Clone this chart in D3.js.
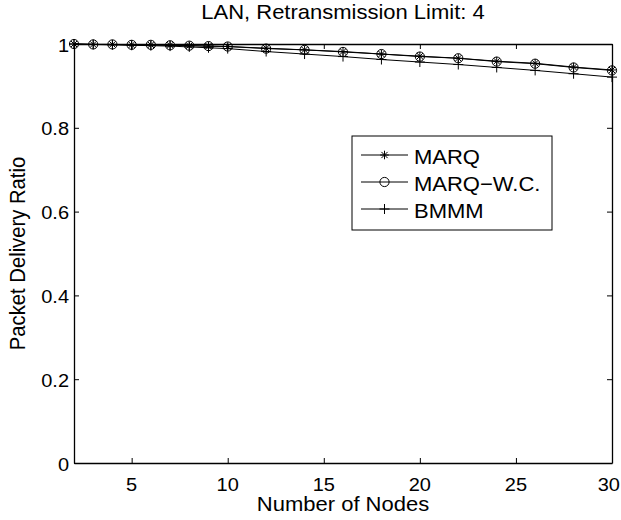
<!DOCTYPE html>
<html>
<head>
<meta charset="utf-8">
<script src="https://cdn.jsdelivr.net/npm/d3@7"></script>
<style>
  html, body { margin: 0; padding: 0; background: #fff; }
  svg { display: block; font-family: "Liberation Sans", Arial, Helvetica, sans-serif; }
</style>
</head>
<body>
<svg id="chart" width="621" height="520"></svg>
<script>
// Number of nodes on the x axis
const nodes = [2, 3, 4, 5, 6, 7, 8, 9, 10, 12, 14, 16, 18, 20, 22, 24, 26, 28, 30];

// Packet delivery ratio per protocol
const marq   = [1.000, 0.999, 0.999, 0.998, 0.998, 0.997, 0.996, 0.995, 0.994, 0.990, 0.986, 0.982, 0.976, 0.971, 0.966, 0.959, 0.954, 0.945, 0.938];
const marqWC = [1.000, 0.999, 0.999, 0.998, 0.998, 0.997, 0.996, 0.995, 0.994, 0.989, 0.986, 0.981, 0.976, 0.970, 0.966, 0.958, 0.953, 0.944, 0.937];
const bmmm   = [1.000, 0.999, 0.998, 0.997, 0.996, 0.995, 0.993, 0.991, 0.989, 0.982, 0.976, 0.970, 0.963, 0.957, 0.951, 0.944, 0.937, 0.929, 0.921];

const xTicks = [5, 10, 15, 20, 25, 30];
const yTicks = [0, 0.2, 0.4, 0.6, 0.8, 1];

const seriesNames = ["MARQ", "MARQ\u2212W.C.", "BMMM"];
const seriesValues = [marq, marqWC, bmmm];
const seriesMarkers = ["star", "circle", "plus"];

const svg = d3.select("#chart");
const margin = { left: 74, right: 9, top: 44, bottom: 57 };
const W = 621, H = 520;
const x = d3.scaleLinear().domain([2, 30]).range([margin.left, W - margin.right]);
const y = d3.scaleLinear().domain([0, 1]).range([H - margin.bottom, margin.top]);

const tickFont = 20;     // tick labels
const labelFont = 22;    // title, axis labels, legend
const squash = 0.92;     // glyphs are slightly compressed vertically
const tickLen = 5;

// Horizontal text with vertical compression
function hText(parent, tx, ty, str, size, anchor) {
  return parent.append("text")
    .attr("transform", `translate(${tx},${ty}) scale(1,${squash})`)
    .attr("text-anchor", anchor || "middle")
    .style("font-size", size + "px")
    .attr("fill", "#000")
    .text(str);
}

// Axes: ticks inward on all four sides, labels drawn separately
const gBottom = svg.append("g").attr("transform", `translate(0,${y(0)})`)
  .call(d3.axisBottom(x).tickValues(xTicks).tickSizeInner(-tickLen).tickSizeOuter(0).tickFormat(""));
const gLeft = svg.append("g").attr("transform", `translate(${x(2)},0)`)
  .call(d3.axisLeft(y).tickValues(yTicks).tickSizeInner(-tickLen).tickSizeOuter(0).tickFormat(""));
const gTop = svg.append("g").attr("transform", `translate(0,${y(1)})`)
  .call(d3.axisTop(x).tickValues(xTicks).tickSizeInner(-tickLen).tickSizeOuter(0).tickFormat(""));
const gRight = svg.append("g").attr("transform", `translate(${x(30)},0)`)
  .call(d3.axisRight(y).tickValues(yTicks).tickSizeInner(-tickLen).tickSizeOuter(0).tickFormat(""));

[gBottom, gLeft, gTop, gRight].forEach(g => {
  g.select(".domain").attr("stroke", "#000").attr("stroke-width", 1.3);
  g.selectAll(".tick line").attr("stroke", "#000").attr("stroke-width", 1);
});

// Tick labels
const fmtY = d => d === 0 ? "0" : d === 1 ? "1" : d3.format(".1f")(d);
const xLabels = svg.append("g");
xTicks.forEach(d => {
  const half = String(d).length * 0.556 * tickFont / 2;
  const cx = Math.min(x(d), W - half - 1);
  hText(xLabels, cx, y(0) + 28, String(d), tickFont, "middle");
});
const yLabels = svg.append("g");
yTicks.forEach(d => hText(yLabels, x(2) - 5, y(d) + 7.5, fmtY(d), tickFont, "end"));

// Marker drawing helpers
function drawMarker(g, type, cx, cy) {
  if (type === "star") {
    const r = 4.3;
    const p = `M${cx - r},${cy}L${cx + r},${cy}M${cx},${cy - r}L${cx},${cy + r}` +
      `M${cx - r * 0.72},${cy - r * 0.72}L${cx + r * 0.72},${cy + r * 0.72}` +
      `M${cx - r * 0.72},${cy + r * 0.72}L${cx + r * 0.72},${cy - r * 0.72}`;
    g.append("path").attr("d", p).attr("stroke", "#000").attr("stroke-width", 1).attr("fill", "none");
  } else if (type === "circle") {
    g.append("circle").attr("cx", cx).attr("cy", cy).attr("r", 4.6)
      .attr("stroke", "#000").attr("stroke-width", 1).attr("fill", "none");
  } else {
    const r = 5;
    const p = `M${cx - r},${cy}L${cx + r},${cy}M${cx},${cy - r}L${cx},${cy + r}`;
    g.append("path").attr("d", p).attr("stroke", "#000").attr("stroke-width", 1).attr("fill", "none");
  }
}

const line = d3.line().x(d => x(d[0])).y(d => y(d[1]));
const plot = svg.append("g");
seriesValues.forEach((vals, i) => {
  const pts = nodes.map((n, j) => [n, vals[j]]);
  plot.append("path").datum(pts).attr("d", line)
    .attr("fill", "none").attr("stroke", "#000").attr("stroke-width", 1);
  const gm = plot.append("g");
  pts.forEach(p => drawMarker(gm, seriesMarkers[i], x(p[0]), y(p[1])));
});

// Legend
const legend = svg.append("g");
legend.append("rect").attr("x", 352).attr("y", 136).attr("width", 200).attr("height", 94)
  .attr("fill", "#fff").attr("stroke", "#000").attr("stroke-width", 1);
seriesNames.forEach((name, i) => {
  const ly = 155 + i * 27;
  legend.append("line").attr("x1", 361).attr("x2", 408).attr("y1", ly).attr("y2", ly)
    .attr("stroke", "#000").attr("stroke-width", 1);
  drawMarker(legend, seriesMarkers[i], 384.5, ly);
  hText(legend, 414, ly + 8.5, name, labelFont, "start");
});

// Title and axis labels
hText(svg, x(16), 18.5, "LAN, Retransmission Limit: 4", labelFont, "middle");
hText(svg, x(16), 511, "Number of Nodes", labelFont, "middle");
svg.append("text")
  .attr("transform", `translate(25,${y(0.5)}) scale(1,${squash}) rotate(-90)`)
  .attr("text-anchor", "middle")
  .style("font-size", labelFont + "px")
  .attr("fill", "#000")
  .text("Packet Delivery Ratio");
</script>
</body>
</html>
